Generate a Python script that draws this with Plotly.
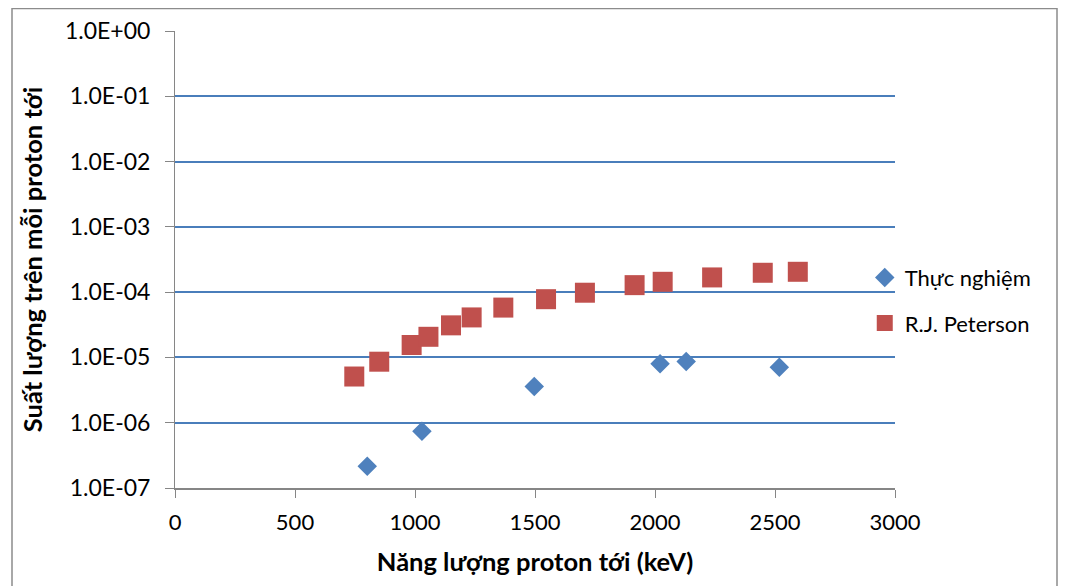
import plotly.graph_objects as go

# Data
exp_energy = [801, 1029, 1497, 2021, 2130, 2518]
exp_yield = [2.16e-7, 7.4e-7, 3.6e-6, 8.0e-6, 8.7e-6, 7.1e-6]

pet_energy = [747, 851, 986, 1056, 1150, 1236, 1368, 1546, 1708, 1915, 2032, 2238, 2449, 2595]
pet_yield = [5.1e-6, 8.6e-6, 1.55e-5, 2.07e-5, 3.1e-5, 4.1e-5, 5.8e-5, 7.8e-5, 9.8e-5,
             1.28e-4, 1.44e-4, 1.68e-4, 1.98e-4, 2.05e-4]

series_names = ["Thực nghiệm", "R.J. Peterson"]
x_ticks = [0, 500, 1000, 1500, 2000, 2500, 3000]
y_tickvals = [1e0, 1e-1, 1e-2, 1e-3, 1e-4, 1e-5, 1e-6, 1e-7]
y_ticktext = ["1.0E+00", "1.0E-01", "1.0E-02", "1.0E-03", "1.0E-04", "1.0E-05", "1.0E-06", "1.0E-07"]

FONT = "Lato, 'Open Sans', sans-serif"

fig = go.Figure()
fig.add_trace(go.Scatter(
    x=exp_energy, y=exp_yield, mode="markers", name=series_names[0],
    legendgroup="a",
    marker=dict(symbol="diamond", size=15, color="#4F81BD"),
))
fig.add_trace(go.Scatter(
    x=pet_energy, y=pet_yield, mode="markers", name=series_names[1],
    legendgroup="b",
    marker=dict(symbol="square", size=20, color="#C0504D"),
))

fig.update_layout(
    width=1067, height=586,
    margin=dict(l=167, r=180, t=22.5, b=106.4, autoexpand=False),
    paper_bgcolor="white", plot_bgcolor="white",
    font=dict(family=FONT, size=22, color="black"),
    showlegend=True,
    legend=dict(x=0.958, y=0.41, xanchor="left", yanchor="middle",
                font=dict(family=FONT, size=22, color="black"),
                tracegroupgap=14, bgcolor="rgba(0,0,0,0)",
                itemwidth=30),
    xaxis=dict(
        range=[0, 3000], tickvals=x_ticks, ticks="outside", ticklen=8,
        tickcolor="#868686", showline=True, linecolor="#868686", linewidth=2,
        showgrid=False, zeroline=False, automargin=False,
        ticklabelstandoff=6,
        tickfont=dict(family=FONT, size=22),
        title=dict(text="<b>Năng lượng proton tới (keV)</b>", font=dict(family=FONT, size=25.5), standoff=19),
    ),
    yaxis=dict(
        type="log", range=[-7, 0], tickvals=y_tickvals, ticktext=y_ticktext,
        ticks="outside", ticklen=9, tickcolor="#868686",
        showline=True, linecolor="#868686", linewidth=1,
        showgrid=True, gridcolor="#4A7EBB", gridwidth=1.5, zeroline=False,
        automargin=False, ticklabelstandoff=10,
        tickfont=dict(family=FONT, size=23),
        title=dict(text="<b>Suất lượng trên mỗi proton tới</b>", font=dict(family=FONT, size=25.5), standoff=15),
    ),
    shapes=[dict(type="rect", xref="paper", yref="paper",
                 x0=(12 - 175) / 720, x1=(1057 - 175) / 720,
                 y0=-0.4, y1=(487.6 - 8) / 457.1,
                 line=dict(color="#8C8C8C", width=1.5), layer="below")],
)

fig.write_html("out.html")
